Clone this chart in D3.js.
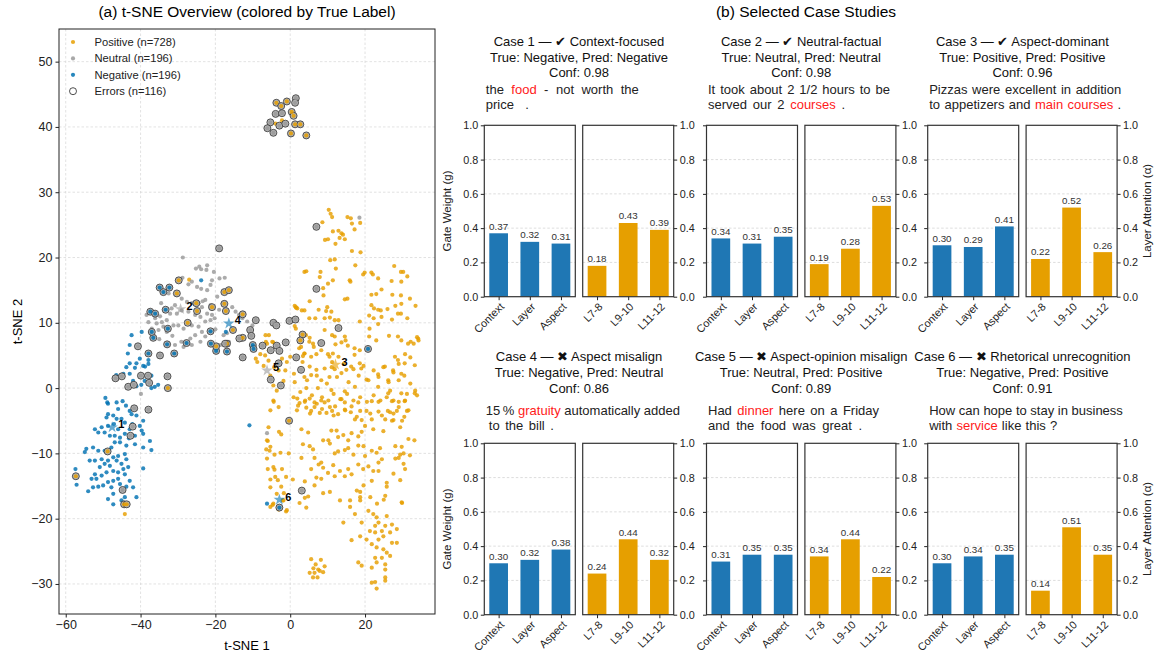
<!DOCTYPE html>
<html>
<head>
<meta charset="utf-8">
<script src="https://cdn.jsdelivr.net/npm/d3@7"></script>
<style>
  body { margin: 0; background: #fff; }
  svg text { font-family: "Liberation Sans", Arial, sans-serif; }
</style>
</head>
<body>
<svg id="chart" width="1159" height="658"></svg>
<script>
// ---------- data: t-SNE panel ----------
const legendLabels = ['Positive (n=728)', 'Neutral (n=196)', 'Negative (n=196)', 'Errors (n=116)'];
const scatterXTicks = [-60, -40, -20, 0, 20];
const scatterYTicks = [-30, -20, -10, 0, 10, 20, 30, 40, 50];

const positivePts = [
  [-2.2,41.0],[-3.9,40.5],
  [10.3,27.3],[10.8,26.7],[11.2,26.2],[15.3,26.2],[16.2,26.0],[16.5,25.2],[17.2,24.3],[18.7,25.3],[8.6,25.4],[11.4,24.0],[12.9,24.1],[13.7,23.7],[14.1,23.5],[13.2,23.0],[12.1,22.1],[14.6,22.8],[9.3,22.7],[10.1,22.8],[16.5,21.0],[18.8,20.8],[11.9,19.7],[10.7,19.6],[17.4,18.8],[12.2,18.3],[4.3,17.9],[3.8,17.8],[8.1,17.8],[7.9,17.0],[11.4,16.5],[10.1,16.0],[8.8,15.3],[8.9,14.2],[5.2,13.3],[7.6,12.0],[9.6,11.8],[9.9,12.4],[11.0,11.7],[14.6,13.6],[15.3,13.7],[15.9,16.5],[16.1,16.3],[19.5,17.4],[19.9,17.7],[21.7,17.7],[22.1,17.4],[23.5,16.8],[27.8,18.7],[29.6,17.8],[30.2,17.8],[31.3,17.1],[27.1,16.4],[29.7,16.3],[24.4,15.1],[23.0,14.4],[21.7,14.3],[27.3,14.3],[29.6,14.2],[32.0,13.7],[33.5,12.6],[21.7,12.7],[22.4,12.2],[23.5,12.0],[24.2,11.9],[26.0,12.1],[28.1,12.6],[29.7,12.9],[28.8,11.4],[29.6,11.4],[27.2,10.5],[31.3,10.7],[21.1,11.1],[22.3,10.7],[24.4,10.9],[23.5,9.8],[1.2,12.6],[1.6,12.3],[3.1,11.9],[6.7,10.7],[9.2,10.7],[10.6,10.8],[11.9,10.4],[12.9,10.4],
  [1.2,9.5],[5.2,7.7],[6.1,6.8],[6.3,6.3],[9.2,8.9],[11.2,8.1],[11.9,7.9],[14.6,7.9],[14.8,7.3],[18.6,10.2],[21.2,9.1],[21.1,7.9],[23.0,7.3],[26.4,8.0],[28.8,7.9],[29.7,7.3],[31.5,6.8],[32.2,7.1],[34.2,7.6],[2.9,6.3],[3.8,5.3],[3.4,4.9],[5.6,4.8],[7.0,5.2],[8.3,5.8],[10.1,5.2],[10.5,4.8],[11.4,5.3],[12.1,6.7],[13.7,7.0],[15.4,6.5],[17.2,6.1],[18.6,5.8],[12.9,4.8],[11.2,4.0],[17.2,5.1],[18.6,3.8],[19.0,3.0],[16.3,3.3],[15.0,2.8],[13.7,2.3],[11.9,2.9],[10.5,1.7],[9.2,3.0],[8.3,1.2],[7.0,2.8],[5.6,2.0],[5.2,3.3],[3.8,1.7],[1.2,0.9],[1.0,2.2],[4.3,0.0],[7.4,0.0],[11.0,-0.3],[14.6,-0.5],[17.3,0.2],[20.4,1.3],[23.5,2.1],[25.3,3.3],[28.0,4.8],[28.8,4.3],[30.6,3.8],[33.3,3.5],[26.2,1.2],[27.5,2.7],[29.7,2.2],[23.5,0.2],[26.2,-0.8],[29.7,-0.8],[33.3,-0.8],
  [-27.0,16.6],[-5.7,8.1],[-6.5,7.1],[-4.8,7.1],[-5.7,5.8],[-9.2,4.5],[-8.8,4.0],[1.5,12.4],[1.9,12.2],[3.8,11.9],[5.1,10.7],[1.5,9.1],[4.2,8.1],[5.1,7.1],[2.4,6.1],[3.8,5.3],[1.5,4.8],[3.3,4.0],
  [-6.6,8.1],[-6.2,6.8],[-4.5,7.0],[-5.3,5.8],[-6.7,5.0],[-8.0,5.2],[-9.4,6.0],[-5.8,4.2],[-7.1,3.4],[-4.3,3.2],[-3.1,2.7],[-5.3,1.9],[-4.5,0.4],[-3.6,-0.4],[-1.8,1.1],[-1.3,2.7],[-0.9,4.0],[-2.2,4.5],[0.0,4.8],
  [-4.5,-1.9],[-5.3,-3.4],[-3.1,-2.9],[-5.8,-6.0],[-6.2,-8.0],[-5.3,-9.0],[-6.2,-10.8],[-4.5,-12.1],[-4.0,-13.6],[-5.3,-15.2],[-3.6,-16.2],[-1.8,-17.2],
  [0.9,-1.4],[2.7,-0.6],[4.0,-1.9],[5.8,-1.1],[7.1,-2.4],[8.5,-1.4],[10.2,-1.9],[11.6,-0.9],[13.4,-1.7],[15.2,-0.9],[16.9,-1.9],[18.7,-1.4],[20.5,-2.1],[22.3,-1.1],[24.1,-1.9],[25.8,-1.4],
  [1.8,-3.4],[5.3,-3.9],[8.5,-3.2],[11.6,-4.2],[14.7,-3.4],[17.8,-4.4],[21.4,-3.9],[24.5,-4.2],[27.6,-4.9],
  [4.5,1.2],[7.1,1.9],[9.8,0.7],[12.5,1.7],[15.6,0.9],[18.3,1.9],[20.9,1.2],[23.6,1.7],[26.3,0.9],[29.0,1.2],[16.9,2.9],[19.6,3.4],[22.3,2.7],[24.9,3.2],[27.6,2.4],[14.3,3.7],[11.1,3.2],
  [33.9,7.8],[34.3,7.3],[33.0,6.8],[32.1,4.7],[30.7,5.2],[29.0,3.7],[30.5,1.9],[32.1,0.7],[33.4,-0.4],[33.9,-1.1],[31.2,-0.9],[30.7,-1.9],[29.0,-2.9],[27.6,-1.9],[26.7,-0.4],[31.6,-3.4],[30.5,-4.4],
  [27.6,-3.9],[29.4,-6.0],[31.6,-7.8],[29.8,-9.0],[30.3,-10.0],[28.1,-10.8],[30.3,-11.6],[30.7,-12.4],[32.0,-10.3],[33.2,-8.0],[29.4,-14.1],[29.8,-17.5],[27.6,-13.1],[25.8,-15.1],[25.0,-17.1],
  [-4.4,-2.1],[1.9,-1.6],[2.5,-2.3],[3.9,-2.1],[5.2,-1.6],[6.5,-2.2],[8.3,-1.9],[9.2,-2.2],[10.6,-2.9],[12.0,-2.8],[13.7,-1.7],[14.6,-2.2],[16.4,-2.8],[18.2,-2.2],[18.7,-3.5],[21.8,-2.0],[23.6,-2.1],[26.1,-3.5],[27.2,-2.0],[29.0,-2.1],[30.6,-2.0],[31.2,-3.5],[29.9,-5.0],[28.5,-3.5],[26.7,-3.7],[23.6,-3.6],
  [2.1,-2.7],[4.3,-3.0],[6.5,-2.9],[5.6,-3.5],[7.9,-3.8],[9.7,-3.8],[11.2,-3.5],[12.8,-4.0],[14.6,-3.3],[16.2,-3.7],[17.3,-4.8],[19.1,-4.9],[20.4,-3.5],[21.8,-4.8],[20.0,-5.8],[22.2,-6.3],[24.9,-6.6],[25.4,-4.8],[27.2,-5.0],
  [-3.0,-6.7],[-2.4,-7.1],[-6.0,-8.1],[-6.4,-9.4],[-5.5,-9.6],[-4.2,-10.2],[-2.6,-9.9],[-0.4,-10.0],
  [3.0,-6.3],[4.8,-6.8],[3.4,-8.6],[5.2,-8.9],[6.1,-9.4],[3.0,-10.7],[6.5,-10.7],[8.8,-8.0],[10.2,-8.0],[11.0,-6.5],[12.4,-6.5],[10.6,-8.5],[12.8,-7.5],[14.2,-7.2],[15.5,-8.0],[16.4,-6.9],[18.2,-7.4],[19.1,-6.7],[18.2,-8.8],[15.5,-9.2],[14.6,-9.5],[12.8,-9.7],[11.9,-10.0],[16.9,-10.2],[20.0,-10.4],[19.6,-8.9],[21.8,-9.6],[23.1,-9.9],[24.0,-9.2],[24.5,-10.9],[28.1,-8.9],[29.4,-10.2],[29.0,-10.7],
  [-6.0,-12.4],[-4.2,-12.5],[-2.2,-12.4],[-1.1,-13.6],[0.7,-14.0],[-5.3,-14.0],[-3.3,-14.1],[-2.4,-15.1],[-1.7,-16.1],[-2.0,-17.2],[-1.1,-18.9],[-5.3,-18.2],[-4.7,-17.9],[3.9,-14.3],[5.6,-12.4],[7.6,-11.7],[8.3,-11.4],[8.8,-12.2],[7.0,-13.7],[6.5,-14.9],[8.3,-13.9],[10.1,-13.0],[11.5,-11.8],[11.9,-13.5],[13.3,-12.7],[14.6,-13.5],[15.5,-12.4],[16.4,-13.2],[18.2,-11.7],[19.5,-12.4],[20.9,-12.0],[22.2,-12.7],[23.6,-12.7],[23.6,-11.4],[25.8,-14.5],[25.4,-16.5],[29.9,-17.6],[21.8,-14.2],[19.6,-14.9],[17.8,-15.7],[18.7,-15.9],[18.7,-16.7],[16.0,-17.2],[13.3,-17.2],[10.6,-15.9],[8.8,-16.1],[3.9,-16.8],[4.3,-18.3],[2.5,-17.6],[4.8,-16.6],
  [16.0,-18.2],[18.7,-17.2],[21.4,-16.7],[23.2,-17.7],[25.8,-19.6],[-4.5,-17.7],[-3.1,-18.6],[-0.9,-18.7],
  [14.2,-20.6],[17.3,-19.3],[19.1,-20.6],[20.9,-18.8],[22.2,-19.3],[23.1,-19.8],[23.6,-20.6],[22.7,-21.1],[21.3,-21.9],[22.7,-22.1],[24.5,-21.9],[25.4,-21.1],[27.2,-20.9],[28.5,-21.6],[26.7,-22.1],[24.9,-22.7],[23.6,-23.2],[21.8,-23.9],[20.4,-23.2],[18.7,-22.7],[16.4,-23.3],[23.1,-24.4],[24.9,-24.7],[25.8,-25.2],[26.7,-25.7],[24.5,-26.0],[22.7,-26.0],[23.1,-26.7],[25.4,-27.0],[21.8,-27.5],[19.1,-27.2],[18.2,-26.7],[25.4,-27.8],[21.8,-29.8],[22.7,-29.7],[25.4,-29.0],[25.4,-29.5],[23.1,-30.7],[28.5,-23.7],[27.2,-23.7],
  [5.6,-26.2],[8.2,-26.3],[6.8,-27.0],[7.5,-27.8],[6.2,-27.6],[5.2,-28.3],[6.5,-28.3],[7.9,-28.0],[8.8,-28.2],[7.3,-29.0],[6.1,-29.0],[9.2,-27.3],
  [-44.2,-19.3]
];

const neutralPts = [
  [18.5,26.1],[-6.2,-6.9],[-39.9,-0.9],
  [-28.7,20.0],[-25.2,18.3],[-24.3,18.6],[-23.8,18.2],[-22.2,18.8],[-22.4,18.1],[-20.4,17.8],[-30.0,16.7],[-28.8,16.9],[-27.2,15.9],[-26.3,16.3],[-24.9,15.5],[-23.8,15.2],[-22.2,15.0],[-21.3,15.8],[-20.9,16.5],[-18.9,16.8],[-17.5,16.9],
  [-29.0,13.7],[-27.6,13.2],[-26.3,13.0],[-24.5,13.0],[-23.4,13.3],[-22.7,13.5],[-21.3,12.7],[-23.6,12.4],[-31.7,12.2],[-30.8,12.7],[-32.1,11.4],[-30.3,11.4],[-29.0,11.9],[-27.2,11.7],[-25.4,11.2],[-24.0,10.9],[-22.2,11.4],[-20.9,11.2],[-20.2,10.7],[-21.3,10.4],[-22.7,10.2],
  [-38.4,11.2],[-37.0,11.7],[-36.1,10.7],[-34.8,11.0],[-34.3,10.1],[-33.0,10.4],[-37.9,10.1],[-35.7,9.9],[-33.9,9.4],[-37.0,9.1],[-35.2,8.9],[-33.0,8.6],[-31.2,9.6],[-29.9,9.6],[-28.5,9.1],[-26.3,9.6],[-24.5,9.4],[-23.6,8.6],[-25.4,8.1],[-26.7,7.6],[-22.7,7.9],[-24.0,7.1],
  [-30.8,6.6],[-29.1,7.1],[-28.5,6.3],[-26.3,6.6],[-15.5,12.4],[-14.6,11.7],[-13.7,11.2],[-12.8,10.7],[-11.5,10.2],[-10.1,9.6],[-16.9,8.4],[-17.8,8.1],[-16.4,7.1],[-18.7,6.6],
  [-34.5,13.0],[-32.5,14.5],[-19.5,14.0],[-18.0,13.0],[-20.0,9.0],[-19.0,12.0],[-35.0,7.5],[-31.5,8.0]
];

const negativePts = [
  [-23.8,16.5],[-42.4,8.1],[-39.7,8.6],[-42.9,6.6],[-40.6,6.6],[-43.4,5.3],[-40.2,4.5],[-41.1,3.8],[-42.9,3.8],[-46.5,2.0],[-37.9,4.3],[-38.8,3.3],[-17.2,8.6],
  [-43.8,3.2],[-41.5,3.1],[-42.9,2.2],[-39.3,3.4],[-37.9,3.7],[-37.1,1.9],[-38.9,1.1],[-39.8,0.5],[-36.2,0.2],[-35.3,0.5],[-37.1,0.0],[-42.0,1.1],[-41.1,0.3],[-44.6,2.2],
  [-49.4,-1.5],[-48.9,-2.2],[-48.7,-2.4],[-46.4,-2.2],[-44.8,-2.0],[-43.9,-2.7],[-42.9,-3.5],[-41.5,-3.0],[-41.1,-4.2],[-39.3,-5.0],[-46.0,-3.2],[-48.7,-4.0],[-49.1,-4.5],[-47.3,-4.2],[-46.4,-4.7],[-45.1,-4.7],[-44.2,-5.3],[-47.1,-5.5],[-48.7,-5.8],[-50.4,-6.0],[-52.2,-6.3],[-51.3,-6.8],[-49.6,-6.8],[-48.2,-7.3],[-46.9,-7.3],[-45.5,-7.6],[-44.2,-7.0],[-43.1,-7.7],[-41.5,-7.3],[-39.3,-7.0],[-37.5,-8.1],[-37.1,-9.5],[-39.3,-9.1],[-41.5,-8.6],[-43.8,-8.8],[-45.5,-8.3],[-46.9,-8.3],[-47.8,-9.1],[-49.6,-9.6],[-51.3,-9.6],[-52.7,-9.1],[-54.5,-9.3],[-54.9,-9.8],
  [-53.6,-11.1],[-52.2,-11.1],[-50.4,-10.9],[-48.7,-11.1],[-47.3,-10.6],[-46.0,-10.4],[-44.2,-10.1],[-43.8,-10.9],[-45.1,-11.6],[-46.4,-11.1],[-48.2,-11.9],[-49.6,-11.6],[-50.9,-12.1],[-52.2,-13.2],[-53.1,-13.9],[-51.8,-13.9],[-50.4,-13.4],[-49.1,-12.9],[-47.3,-12.7],[-46.0,-12.9],[-44.6,-12.4],[-43.3,-12.1],[-44.2,-13.2],[-46.0,-13.9],[-47.3,-14.2],[-48.7,-14.4],[-50.0,-14.9],[-51.3,-15.1],[-52.7,-15.2],[-54.0,-15.8],[-47.8,-15.2],[-45.5,-14.7],[-43.8,-15.1],[-42.0,-15.2],[-42.9,-14.2],[-41.1,-16.7],[-47.3,-16.2],[-48.7,-17.0],[-47.3,-17.8],[-45.1,-17.2],[-44.2,-16.7],[-57.4,-12.4],[-57.1,-14.8],[-39.3,-12.3],
  [-39.7,-6.5],[-40.2,-5.8],[-46.0,-6.3],[-42.9,-6.3],[-42.2,-5.5],[-42.4,-4.0],
  [-10.9,-5.7],[-6.2,-17.7]
];

// misclassified samples: [x, y, true label]
const errorPts = [
  [-3.7,43.7,'P'],[-2.4,43.2,'P'],[-0.9,43.9,'P'],[0.4,42.3,'P'],[0.9,41.7,'P'],[1.3,40.4,'P'],[2.7,40.4,'P'],[0.2,39.0,'P'],[4.3,38.7,'P'],
  [1.5,44.4,'U'],[1.3,43.7,'U'],[-3.9,42.0,'U'],[-2.2,42.1,'U'],[-5.3,40.7,'U'],[-6.1,39.8,'U'],[-4.5,39.1,'U'],[-2.9,40.2,'U'],[-1.3,40.5,'U'],
  [-19.0,21.4,'U'],[-29.8,16.5,'P'],[-34.9,15.4,'N'],[-32.3,15.4,'N'],[-33.9,14.7,'N'],[-30.3,14.5,'P'],[-37.4,11.7,'N'],[-36.1,11.4,'N'],[-33.3,12.0,'N'],
  [-25.1,13.0,'P'],[-24.9,11.8,'P'],[-20.9,12.4,'P'],[-17.6,12.9,'P'],[-17.2,11.8,'P'],[-17.6,14.7,'P'],[-16.4,15.0,'P'],[-27.4,10.0,'P'],[-12.7,11.3,'P'],
  [-9.2,10.4,'U'],[-4.5,10.0,'U'],[-3.7,9.6,'U'],[-0.2,10.3,'U'],[1.4,10.5,'U'],[3.3,8.2,'P'],[2.7,7.3,'P'],[8.3,6.9,'U'],[12.9,9.2,'U'],[20.8,6.0,'N'],
  [-12.7,7.7,'P'],[-13.6,7.6,'U'],[-10.7,8.9,'U'],[-10.4,8.0,'U'],[-10.0,6.6,'N'],[-9.8,6.0,'N'],[-7.4,6.5,'U'],[-5.2,5.8,'U'],[-3.6,6.5,'U'],[-2.9,5.7,'U'],[-1.2,7.0,'U'],
  [1.6,4.7,'U'],[2.9,2.8,'U'],[-3.1,3.8,'U'],[-5.2,1.3,'U'],[-2.5,0.4,'U'],[-12.7,4.7,'U'],
  [-16.9,5.6,'N'],[-16.9,6.8,'P'],[-19.8,5.7,'N'],[-19.8,6.4,'P'],[-21.2,6.8,'N'],[-21.3,8.7,'N'],[-17.4,6.8,'U'],[-15.3,8.9,'P'],
  [-0.3,-5.0,'P'],[3.1,-15.7,'U'],[-2.9,-18.3,'N'],
  [-27.7,6.9,'N'],[-31.0,5.3,'N'],[-32.9,6.7,'N'],[-32.7,9.1,'N'],[-32.8,1.8,'U'],[-32.7,0.0,'P'],[-34.8,5.0,'U'],[-37.9,5.3,'N'],[-36.6,7.7,'N'],[-37.0,8.6,'N'],[-40.7,6.4,'U'],
  [-46.7,1.5,'U'],[-45.0,1.8,'U'],[-43.3,0.2,'U'],[-41.8,0.5,'U'],[-39.9,1.9,'U'],[-38.0,1.9,'U'],[-37.7,0.8,'U'],[-41.7,-3.1,'U'],[-37.9,-3.3,'U'],[-42.1,-5.9,'U'],[-42.7,-7.3,'U'],
  [-48.8,-9.7,'P'],[-57.3,-13.5,'P'],[-44.8,-15.6,'U'],[-44.4,-17.8,'P'],[-43.7,-17.8,'P'],
  [7.0,24.7,'U'],[7.0,15.2,'U']
];

// the six selected cases: [x, y, true label]
const caseStars = [[-47.6,-6.0,'N'],[-29.3,12.1,'U'],[12.1,3.6,'P'],[-16.4,9.9,'N'],[-6.2,2.7,'U'],[-2.9,-17.1,'N']];

// ---------- data: case studies ----------
const gateLabels = ['Context', 'Layer', 'Aspect'];
const layerLabels = ['L7-8', 'L9-10', 'L11-12'];
const gateWeights = [[0.37,0.32,0.31],[0.34,0.31,0.35],[0.30,0.29,0.41],[0.30,0.32,0.38],[0.31,0.35,0.35],[0.30,0.34,0.35]];
const layerAttn   = [[0.18,0.43,0.39],[0.19,0.28,0.53],[0.22,0.52,0.26],[0.24,0.44,0.32],[0.34,0.44,0.22],[0.14,0.51,0.35]];
const barTicks = [0, 0.2, 0.4, 0.6, 0.8, 1.0];
const caseTitles = ['Case 1 \u2014 \u2714 Context-focused', 'Case 2 \u2014 \u2714 Neutral-factual', 'Case 3 \u2014 \u2714 Aspect-dominant',
                    'Case 4 \u2014 \u2716 Aspect misalign', 'Case 5 \u2014 \u2716 Aspect-opinion misalign', 'Case 6 \u2014 \u2716 Rhetorical unrecognition'];
const caseTruth = ['True: Negative, Pred: Negative', 'True: Neutral, Pred: Neutral', 'True: Positive, Pred: Positive',
                   'True: Negative, Pred: Neutral', 'True: Neutral, Pred: Positive', 'True: Negative, Pred: Positive'];
const caseConf = ['Conf: 0.98', 'Conf: 0.98', 'Conf: 0.96', 'Conf: 0.86', 'Conf: 0.89', 'Conf: 0.91'];
// [..] marks the aspect term (drawn in red)
const caseSentences = [
  ['the [food] - not worth the', 'price .'],
  ['It took about 2 1/2 hours to be', 'served our 2 [courses] .'],
  ['Pizzas were excellent in addition', 'to appetizers and [main courses] .'],
  ['15\u2009% [gratuity] automatically added', 'to the bill .'],
  ['Had [dinner] here on a Friday', 'and the food was great .'],
  ['How can hope to stay in business', 'with [service] like this ?']
];

// ---------- layout ----------
const classColor = { P: '#E69F00', U: '#999999', N: '#0072B2' };
const gateColor = '#1f77b4', layerColor = '#E69F00';
const A = { left: 59, right: 435, top: 29, bottom: 614 };
const caseLeft = [484.3, 706.5, 927.7];
const panelW = 91, panelStep = 98.4;
const rowTop = [125.3, 443.3], rowBottom = [296.7, 614.7];
const titleY = [[46, 61.5, 77, 94, 109], [361, 377, 393, 414.5, 429.5]];
const sentenceWidths = [[153, 43], [182, 137], [192, 192], [191, 65], [171, 154], [192, 128]];
const sentenceIndent = [[0, 0], [0, 0], [0, 0], [0, 3], [0, 0], [0, 0]];

const svg = d3.select('#chart');
const minus = d => (d < 0 ? '\u2212' + Math.abs(d) : '' + d);

// ================= (a) t-SNE =================
const sx = d3.scaleLinear().domain([-61.8, 38.7]).range([A.left, A.right]);
const sy = d3.scaleLinear().domain([-34.6, 55]).range([A.bottom, A.top]);
const ga = svg.append('g');

svg.append('text').attr('x', 247).attr('y', 17).attr('text-anchor', 'middle')
  .attr('font-size', 15.5).text('(a) t-SNE Overview (colored by True Label)');

ga.append('clipPath').attr('id', 'clipA').append('rect')
  .attr('x', A.left).attr('y', A.top).attr('width', A.right - A.left).attr('height', A.bottom - A.top);

// grid
ga.append('g').selectAll('line').data(scatterXTicks).join('line')
  .attr('x1', d => sx(d)).attr('x2', d => sx(d)).attr('y1', A.top).attr('y2', A.bottom)
  .attr('stroke', '#d6d6d6').attr('stroke-width', 0.7).attr('stroke-dasharray', '2.5,2');
ga.append('g').selectAll('line').data(scatterYTicks).join('line')
  .attr('y1', d => sy(d)).attr('y2', d => sy(d)).attr('x1', A.left).attr('x2', A.right)
  .attr('stroke', '#d6d6d6').attr('stroke-width', 0.7).attr('stroke-dasharray', '2.5,2');

// axes
const ax = ga.append('g').attr('transform', `translate(0,${A.bottom})`)
  .call(d3.axisBottom(sx).tickValues(scatterXTicks).tickSize(3.5).tickPadding(3).tickFormat(minus));
const ay = ga.append('g').attr('transform', `translate(${A.left},0)`)
  .call(d3.axisLeft(sy).tickValues(scatterYTicks).tickSize(3.5).tickPadding(3).tickFormat(minus));
[ax, ay].forEach(g => {
  g.select('.domain').remove();
  g.selectAll('text').attr('font-size', 12.5).attr('fill', '#222')
    .style('font-family', '"Liberation Sans", Arial, sans-serif');
  g.selectAll('line').attr('stroke', '#222');
});
ga.append('text').attr('x', (A.left + A.right) / 2).attr('y', 650).attr('text-anchor', 'middle')
  .attr('font-size', 13).text('t-SNE 1');
ga.append('text').attr('transform', `translate(22,${(A.top + A.bottom) / 2}) rotate(-90)`)
  .attr('text-anchor', 'middle').attr('font-size', 13).text('t-SNE 2');

// points
const pts = ga.append('g').attr('clip-path', 'url(#clipA)');
[[positivePts, 'P'], [neutralPts, 'U'], [negativePts, 'N']].forEach(([arr, c]) => {
  pts.append('g').selectAll('circle').data(arr).join('circle')
    .attr('cx', d => sx(d[0])).attr('cy', d => sy(d[1])).attr('r', 2.1)
    .attr('fill', classColor[c]).attr('fill-opacity', 0.82);
});
pts.append('g').selectAll('circle').data(errorPts).join('circle')
  .attr('cx', d => sx(d[0])).attr('cy', d => sy(d[1])).attr('r', 3.5)
  .attr('fill', '#b3b3b3').attr('stroke', '#333').attr('stroke-width', 0.8);
pts.append('g').selectAll('circle').data(errorPts).join('circle')
  .attr('cx', d => sx(d[0])).attr('cy', d => sy(d[1])).attr('r', 2.1)
  .attr('fill', d => classColor[d[2]]).attr('fill-opacity', 0.85);

// case stars
const star = d3.symbol().type(d3.symbolStar).size(42);
pts.append('g').selectAll('path').data(caseStars).join('path')
  .attr('d', star).attr('transform', d => `translate(${sx(d[0])},${sy(d[1])})`)
  .attr('fill', d => classColor[d[2]]).attr('fill-opacity', 0.6);
pts.append('g').selectAll('text').data(caseStars).join('text')
  .attr('x', d => sx(d[0]) + 6).attr('y', d => sy(d[1]) + 1)
  .attr('font-size', 11).attr('font-weight', 'bold').text((d, i) => i + 1);

// frame
ga.append('rect').attr('x', A.left).attr('y', A.top).attr('width', A.right - A.left).attr('height', A.bottom - A.top)
  .attr('fill', 'none').attr('stroke', '#222').attr('stroke-width', 1);

// legend
const leg = ga.append('g');
legendLabels.forEach((lab, i) => {
  const y = 42 + i * 16.4;
  if (i < 3) {
    leg.append('circle').attr('cx', 73).attr('cy', y).attr('r', 2.1)
      .attr('fill', classColor[['P', 'U', 'N'][i]]).attr('fill-opacity', 0.85);
  } else {
    leg.append('circle').attr('cx', 73).attr('cy', y).attr('r', 3.5)
      .attr('fill', '#fff').attr('stroke', '#222').attr('stroke-width', 0.8);
  }
  leg.append('text').attr('x', 94.5).attr('y', y + 4).attr('font-size', 11.2).attr('fill', '#222').text(lab);
});

// ================= (b) Case studies =================
svg.append('text').attr('x', 806).attr('y', 17).attr('text-anchor', 'middle')
  .attr('font-size', 15.5).text('(b) Selected Case Studies');

function drawSentence(g, str, x, y, width) {
  const t = g.append('text').attr('x', x).attr('y', y).attr('font-size', 13)
    .style('white-space', 'pre');
  str.split(/(\[[^\]]*\])/).filter(s => s.length).forEach(seg => {
    const hl = seg.startsWith('[');
    t.append('tspan').attr('fill', hl ? '#ff1a1a' : '#222').text(hl ? seg.slice(1, -1) : seg);
  });
  const natural = t.node().getComputedTextLength();
  const gaps = (str.match(/ /g) || []).length;
  if (gaps > 0) t.attr('word-spacing', Math.max(0, (width - natural) / gaps));
}

function drawCase(i) {
  const row = Math.floor(i / 3), col = i % 3;
  const x0 = caseLeft[col], top = rowTop[row], bot = rowBottom[row];
  const g = svg.append('g');
  const cx = x0 + (panelStep + panelW) / 2;
  const ty = titleY[row];
  [caseTitles[i], caseTruth[i], caseConf[i]].forEach((s, k) => {
    g.append('text').attr('x', cx).attr('y', ty[k]).attr('text-anchor', 'middle')
      .attr('font-size', 13).attr('fill', '#111').text(s);
  });
  caseSentences[i].forEach((s, k) => drawSentence(g, s, x0 + 1.5 + sentenceIndent[i][k], ty[3 + k], sentenceWidths[i][k]));

  const y = d3.scaleLinear().domain([0, 1]).range([bot, top]);
  [0, 1].forEach(side => {
    const left = x0 + side * panelStep, right = left + panelW;
    const x = d3.scaleLinear().domain([-0.46, 2.46]).range([left, right]);
    const vals = side === 0 ? gateWeights[i] : layerAttn[i];
    const labels = side === 0 ? gateLabels : layerLabels;
    const p = g.append('g');

    p.append('g').selectAll('line').data(barTicks.slice(1, 5)).join('line')
      .attr('x1', left).attr('x2', right).attr('y1', d => y(d)).attr('y2', d => y(d))
      .attr('stroke', '#cfcfcf').attr('stroke-width', 0.7).attr('stroke-dasharray', '2.5,2');

    p.append('g').selectAll('rect').data(vals).join('rect')
      .attr('x', (d, j) => x(j - 0.3)).attr('width', x(0.3) - x(-0.3))
      .attr('y', d => y(d)).attr('height', d => bot - y(d))
      .attr('fill', side === 0 ? gateColor : layerColor);

    p.append('g').selectAll('text').data(vals).join('text')
      .attr('x', (d, j) => x(j)).attr('y', d => y(d) - 3.5).attr('text-anchor', 'middle')
      .attr('font-size', 9.8).attr('fill', '#333').text(d => d.toFixed(2));

    let yAxis;
    if (side === 0) {
      yAxis = p.append('g').attr('transform', `translate(${left},0)`)
        .call(d3.axisLeft(y).tickValues(barTicks).tickSize(3.5).tickPadding(2.5)
          .tickFormat(col === 0 ? d3.format('.1f') : () => ''));
    } else {
      yAxis = p.append('g').attr('transform', `translate(${right},0)`)
        .call(d3.axisRight(y).tickValues(barTicks).tickSize(3.5).tickPadding(2.5).tickFormat(d3.format('.1f')));
    }
    const xAxis = p.append('g').attr('transform', `translate(0,${bot})`)
      .call(d3.axisBottom(x).tickValues([0, 1, 2]).tickSize(3.5).tickFormat(d => labels[d]));
    xAxis.selectAll('text').attr('x', 0).attr('y', 0).attr('dy', '0.35em')
      .attr('transform', 'translate(3,8) rotate(-45)').attr('text-anchor', 'end');
    [yAxis, xAxis].forEach(a => {
      a.select('.domain').remove();
      a.selectAll('text').attr('font-size', 10.8).attr('fill', '#222')
        .style('font-family', '"Liberation Sans", Arial, sans-serif');
      a.selectAll('line').attr('stroke', '#222');
    });

    p.append('rect').attr('x', left).attr('y', top).attr('width', panelW).attr('height', bot - top)
      .attr('fill', 'none').attr('stroke', '#333').attr('stroke-width', 1.2);

    if (side === 0 && col === 0) {
      p.append('text').attr('transform', `translate(451,${(top + bot) / 2}) rotate(-90)`)
        .attr('text-anchor', 'middle').attr('font-size', 11.5).attr('fill', '#222').text('Gate Weight (g)');
    }
    if (side === 1 && col === 2) {
      p.append('text').attr('transform', `translate(1151,${(top + bot) / 2}) rotate(-90)`)
        .attr('text-anchor', 'middle').attr('font-size', 11.5).attr('fill', '#222').text('Layer Attention (\u03b1)');
    }
  });
}
for (let i = 0; i < 6; i++) drawCase(i);
</script>
</body>
</html>
